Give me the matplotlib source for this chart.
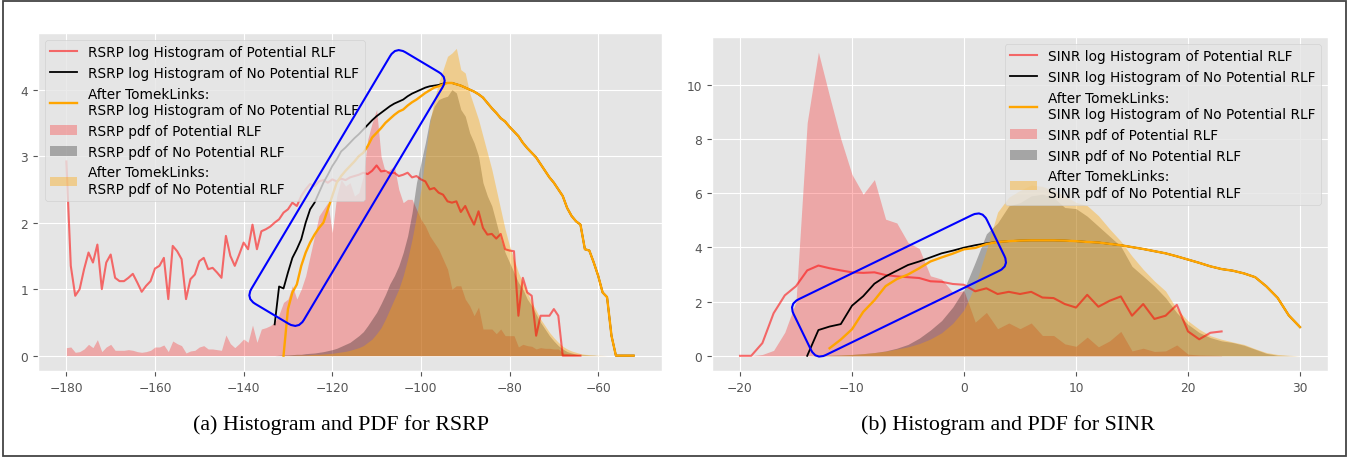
import numpy as np
import matplotlib
matplotlib.use("Agg")
import matplotlib.pyplot as plt
from matplotlib.patches import FancyBboxPatch, Rectangle
from matplotlib.transforms import Affine2D

plt.style.use("ggplot")

# ---------------- RSRP data ----------------
rsrp_x_pot = np.arange(-180, -63)
rsrp_log_pot = [2.92, 1.35, 0.90, 1.00, 1.30, 1.55, 1.40, 1.67, 1.00, 1.40,
                1.52, 1.17, 1.12, 1.12, 1.17, 1.23, 1.10, 0.96, 1.05, 1.12,
                1.31, 1.35, 1.47, 0.85, 1.65, 1.57, 1.45, 0.85, 1.15, 1.22,
                1.42, 1.47, 1.30, 1.32, 1.25, 1.17, 1.80, 1.50, 1.35, 1.52,
                1.70, 1.60, 1.97, 1.60, 1.87, 1.90, 1.94, 2.00, 2.05, 2.15,
                2.20, 2.30, 2.25, 2.40, 2.50, 2.58, 2.55, 2.62, 2.64, 2.60,
                2.65, 2.62, 2.66, 2.64, 2.68, 2.70, 2.72, 2.75, 2.73, 2.78,
                2.86, 2.77, 2.78, 2.74, 2.75, 2.70, 2.72, 2.75, 2.68, 2.70,
                2.65, 2.62, 2.50, 2.52, 2.45, 2.42, 2.32, 2.30, 2.32, 2.16,
                2.25, 2.10, 1.97, 2.17, 1.92, 1.82, 1.83, 1.76, 1.83, 1.60,
                1.58, 1.57, 0.60, 1.17, 0.95, 0.90, 0.30, 0.60, 0.60, 0.60,
                0.70, 0.60, 0.00, 0.00, 0.00, 0.00, 0.00]
rsrp_pdf_pot = [0.12, 0.13, 0.05, 0.06, 0.10, 0.17, 0.12, 0.24, 0.06, 0.13,
                0.17, 0.08, 0.08, 0.08, 0.09, 0.08, 0.06, 0.05, 0.06, 0.08,
                0.13, 0.13, 0.16, 0.06, 0.22, 0.18, 0.15, 0.04, 0.07, 0.08,
                0.13, 0.15, 0.10, 0.10, 0.09, 0.08, 0.31, 0.18, 0.12, 0.18,
                0.25, 0.20, 0.46, 0.20, 0.40, 0.42, 0.45, 0.50, 0.62, 0.80,
                0.85, 1.05, 0.85, 1.00, 1.20, 1.50, 1.80, 2.10, 2.20, 2.30,
                1.85, 2.40, 2.65, 2.55, 2.60, 2.40, 2.45, 2.70, 3.25, 3.50,
                3.70, 3.00, 2.75, 2.80, 2.85, 2.50, 2.30, 2.35, 2.35, 2.20,
                2.05, 1.95, 1.80, 1.70, 1.60, 1.45, 1.30, 1.00, 1.05, 1.05,
                0.85, 0.75, 0.60, 0.73, 0.40, 0.40, 0.40, 0.33, 0.40, 0.30,
                0.30, 0.30, 0.13, 0.17, 0.15, 0.14, 0.10, 0.12, 0.11, 0.11,
                0.10, 0.10, 0.04, 0.03, 0.02, 0.02, 0.01]

rsrp_x_pdf_no = np.arange(-133, -55)
rsrp_pdf_no = [0.00, 0.005, 0.01, 0.01, 0.015, 0.02, 0.02, 0.03, 0.035, 0.04,
               0.05, 0.06, 0.075, 0.09, 0.11, 0.14, 0.17, 0.20, 0.25, 0.30,
               0.36, 0.45, 0.55, 0.65, 0.78, 0.92, 1.08, 1.20, 1.35, 1.55,
               1.80, 2.15, 2.60, 2.90, 3.20, 3.55, 3.75, 3.85, 3.88, 3.90,
               4.00, 3.95, 3.70, 3.60, 3.35, 3.20, 3.00, 2.60, 2.40, 2.25,
               2.00, 1.75, 1.55, 1.40, 1.25, 1.10, 1.00, 0.85, 0.75, 0.62,
               0.50, 0.40, 0.30, 0.22, 0.15, 0.10, 0.06, 0.04, 0.02, 0.01,
               0.01, 0.005, 0.005, 0.00, 0.00, 0.00, 0.00, 0.00]
rsrp_pdf_tl = [0.00, 0.00, 0.00, 0.005, 0.005, 0.01, 0.01, 0.01, 0.015, 0.02,
               0.02, 0.025, 0.03, 0.035, 0.045, 0.055, 0.065, 0.08, 0.10, 0.12,
               0.15, 0.20, 0.25, 0.33, 0.42, 0.55, 0.70, 0.85, 1.00, 1.20,
               1.45, 1.75, 2.10, 2.50, 3.00, 3.50, 3.85, 4.10, 4.30, 4.50,
               4.55, 4.62, 4.30, 4.25, 3.95, 3.75, 3.55, 3.30, 3.05, 2.80,
               2.50, 2.20, 1.90, 1.65, 1.45, 1.25, 1.10, 0.95, 0.80, 0.68,
               0.55, 0.45, 0.35, 0.27, 0.20, 0.14, 0.10, 0.07, 0.05, 0.03,
               0.02, 0.015, 0.01, 0.005, 0.003, 0.00, 0.00, 0.00]

rsrp_x_no = np.arange(-133, -51)
rsrp_log_no = [0.47, 1.04, 1.01, 1.25, 1.47, 1.60, 1.75, 2.00, 2.20, 2.30,
               2.45, 2.60, 2.72, 2.85, 2.95, 3.07, 3.13, 3.20, 3.27, 3.33,
               3.40, 3.47, 3.54, 3.60, 3.65, 3.70, 3.75, 3.79, 3.82, 3.85,
               3.90, 3.94, 3.97, 4.00, 4.03, 4.05, 4.06, 4.07, 4.09, 4.10,
               4.10, 4.08, 4.06, 4.03, 4.00, 3.97, 3.93, 3.88, 3.80, 3.72,
               3.65, 3.57, 3.52, 3.44, 3.37, 3.30, 3.20, 3.12, 3.05, 2.98,
               2.88, 2.78, 2.68, 2.60, 2.50, 2.40, 2.22, 2.10, 2.02, 1.97,
               1.60, 1.58, 1.40, 1.20, 0.95, 0.88, 0.30, 0.00, 0.00, 0.00,
               0.00, 0.00]

rsrp_x_tl = np.arange(-131, -51)
rsrp_log_tl = [0.00, 0.70, 0.95, 1.07, 1.35, 1.55, 1.70, 1.82, 1.92, 2.00,
               2.20, 2.40, 2.60, 2.70, 2.78, 2.85, 2.92, 3.00, 3.05, 3.15,
               3.28, 3.35, 3.42, 3.50, 3.56, 3.62, 3.67, 3.70, 3.76, 3.81,
               3.85, 3.90, 3.95, 3.99, 4.03, 4.05, 4.08, 4.10, 4.10, 4.08,
               4.06, 4.03, 4.00, 3.97, 3.93, 3.88, 3.80, 3.72, 3.65, 3.57,
               3.52, 3.44, 3.37, 3.30, 3.20, 3.12, 3.05, 2.98, 2.88, 2.78,
               2.68, 2.60, 2.50, 2.40, 2.22, 2.10, 2.02, 1.97, 1.60, 1.58,
               1.40, 1.20, 0.95, 0.88, 0.30, 0.00, 0.00, 0.00, 0.00, 0.00]

# ---------------- SINR data ----------------
sinr_x_pot = np.arange(-20, 24)
sinr_log_pot = [0.00, 0.00, 0.47, 1.57, 2.23, 2.57, 3.15, 3.33, 3.23, 3.15,
                3.08, 3.06, 3.08, 2.98, 2.93, 2.90, 2.87, 2.75, 2.73, 2.65,
                2.62, 2.38, 2.49, 2.28, 2.36, 2.28, 2.36, 2.15, 2.13, 1.91,
                1.78, 2.25, 1.81, 2.03, 2.19, 1.48, 1.91, 1.36, 1.48, 1.88,
                0.90, 0.61, 0.85, 0.90]
sinr_pdf_pot = [0.00, 0.00, 0.05, 0.20, 0.87, 2.00, 8.60, 11.20, 9.57, 8.00,
                6.69, 5.96, 6.50, 5.04, 4.90, 4.18, 3.96, 2.95, 2.83, 2.34,
                2.40, 1.24, 1.60, 1.00, 1.21, 1.00, 1.21, 0.75, 0.75, 0.44,
                0.35, 0.69, 0.33, 0.55, 0.90, 0.18, 0.28, 0.16, 0.18, 0.40,
                0.06, 0.03, 0.02, 0.01]

sinr_x_pdf_no = np.arange(-14, 31)
sinr_pdf_no = [0.00, 0.01, 0.02, 0.03, 0.05, 0.08, 0.12, 0.18, 0.28, 0.42,
               0.65, 0.95, 1.30, 1.80, 2.45, 3.45, 4.50, 4.90, 5.53, 5.65,
               5.90, 5.96, 5.84, 5.47, 5.43, 5.15, 4.78, 4.41, 4.04, 3.30,
               2.94, 2.57, 2.14, 1.59, 1.16, 0.86, 0.67, 0.55, 0.49, 0.39,
               0.24, 0.09, 0.02, 0.01, 0.00]
sinr_pdf_tl = [0.00, 0.01, 0.02, 0.03, 0.05, 0.08, 0.12, 0.17, 0.25, 0.33,
               0.45, 0.62, 0.85, 1.20, 1.70, 2.60, 3.90, 5.30, 5.85, 6.10,
               6.30, 6.25, 6.10, 5.90, 5.66, 5.54, 5.17, 4.68, 4.23, 3.68,
               3.19, 2.76, 2.39, 1.72, 1.29, 0.98, 0.74, 0.61, 0.51, 0.42,
               0.26, 0.12, 0.05, 0.02, 0.00]

sinr_x_no = np.arange(-14, 31)
sinr_log_no = [0.00, 0.95, 1.08, 1.17, 1.85, 2.20, 2.66, 2.93, 3.14, 3.35,
               3.48, 3.63, 3.78, 3.88, 3.99, 4.08, 4.15, 4.20, 4.23, 4.25,
               4.26, 4.26, 4.26, 4.25, 4.23, 4.20, 4.18, 4.13, 4.08, 4.01,
               3.94, 3.86, 3.78, 3.67, 3.55, 3.43, 3.30, 3.20, 3.14, 3.04,
               2.90, 2.56, 2.14, 1.49, 1.06]

sinr_x_tl = np.arange(-12, 31)
sinr_log_tl = [0.28, 0.60, 0.98, 1.62, 2.05, 2.57, 2.83, 3.00, 3.23, 3.48,
               3.63, 3.77, 3.93, 3.98, 4.12, 4.20, 4.23, 4.25, 4.26, 4.26,
               4.26, 4.25, 4.23, 4.20, 4.18, 4.13, 4.08, 4.01, 3.94, 3.86,
               3.78, 3.67, 3.55, 3.43, 3.30, 3.20, 3.14, 3.04, 2.90, 2.56,
               2.14, 1.49, 1.06]


def panel(ax, name, x_pot, log_pot, pdf_pot, x_no, log_no, x_tl, log_tl,
          x_pdf, pdf_no, pdf_tl, loc):
    ax.plot(x_pot, log_pot, color="red", alpha=0.55, lw=1.5,
            label=name + " log Histogram of Potential RLF")
    ax.plot(x_no, log_no, color="black", lw=1.3,
            label=name + " log Histogram of No Potential RLF")
    ax.plot(x_tl, log_tl, color="orange", lw=1.7,
            label="After TomekLinks:\n" + name + " log Histogram of No Potential RLF")
    ax.fill_between(x_pot, pdf_pot, color="red", alpha=0.27, lw=0,
                    label=name + " pdf of Potential RLF")
    ax.fill_between(x_pdf, pdf_no, color="black", alpha=0.28, lw=0,
                    label=name + " pdf of No Potential RLF")
    ax.fill_between(x_pdf, pdf_tl, color="orange", alpha=0.38, lw=0,
                    label="After TomekLinks:\n" + name + " pdf of No Potential RLF")
    ax.tick_params(labelsize=8.8, colors="#555555")
    ax.legend(loc=loc, fontsize=9.8)


fig = plt.figure(figsize=(13.51, 4.6), dpi=100)
ax1 = fig.add_axes([38 / 1351, 88 / 460, 624 / 1351, 338 / 460])
ax2 = fig.add_axes([712 / 1351, 88 / 460, 616 / 1351, 334 / 460])

panel(ax1, "RSRP", rsrp_x_pot, rsrp_log_pot, rsrp_pdf_pot, rsrp_x_no, rsrp_log_no,
      rsrp_x_tl, rsrp_log_tl, rsrp_x_pdf_no, rsrp_pdf_no, rsrp_pdf_tl, "upper left")
panel(ax2, "SINR", sinr_x_pot, sinr_log_pot, sinr_pdf_pot, sinr_x_no, sinr_log_no,
      sinr_x_tl, sinr_log_tl, sinr_x_pdf_no, sinr_pdf_no, sinr_pdf_tl, "upper right")

# rounded highlight boxes (figure pixels, y up)
for cx, cy, length, width, ang in [(347, 271, 293, 61, 59.2), (899, 174, 215, 62, 25.9)]:
    tr = Affine2D().rotate_deg_around(cx, cy, ang).scale(1 / 100) + fig.dpi_scale_trans
    box = FancyBboxPatch((cx - length / 2, cy - width / 2), length, width,
                         boxstyle="round,pad=0,rounding_size=11",
                         fill=False, edgecolor="blue", lw=1.5, transform=tr, zorder=5)
    fig.add_artist(box)

serif = ["Liberation Serif", "DejaVu Serif"]
fig.text(341 / 1351, 1 - 425 / 460, "(a) Histogram and PDF for RSRP",
         ha="center", va="center", fontsize=15.8, family=serif)
fig.text(1008 / 1351, 1 - 425 / 460, "(b) Histogram and PDF for SINR",
         ha="center", va="center", fontsize=15.8, family=serif)

fig.add_artist(Rectangle((3 / 1351, 3 / 460), 1343 / 1351, 455 / 460,
                         transform=fig.transFigure, fill=False,
                         edgecolor="#444444", lw=1.3))

fig.savefig("out.png", dpi=100)
